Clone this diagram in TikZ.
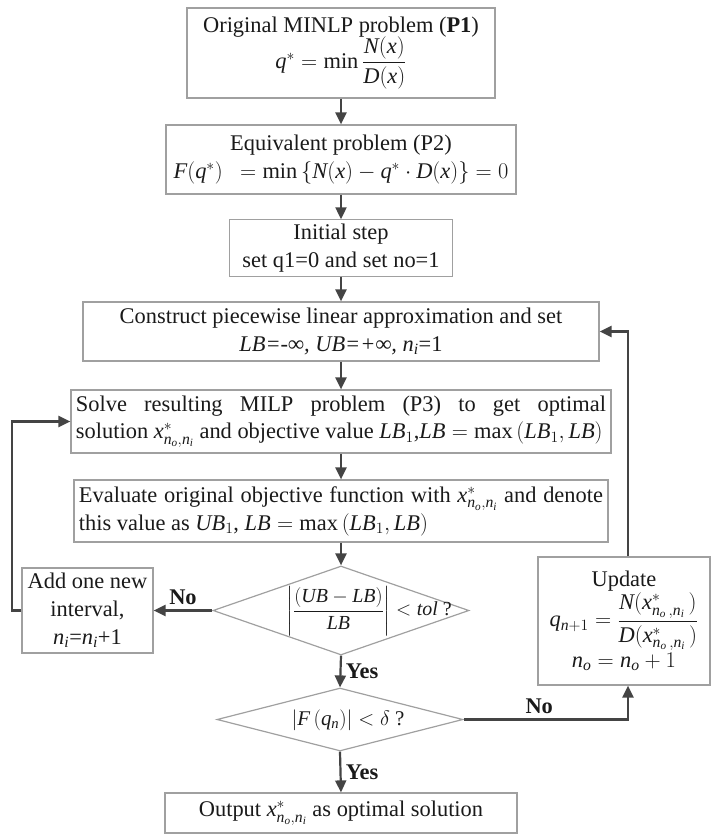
\RequirePackage{fix-cm}
\documentclass[tikz,border=0pt]{standalone}
\usepackage{amsmath}
\usepackage{fontspec}
\setmainfont{Liberation Serif}
\usetikzlibrary{arrows.meta,shapes.geometric}
\definecolor{boxgray}{HTML}{A0A0A0}
\definecolor{arrgray}{HTML}{444444}
\definecolor{txt}{HTML}{1A1A1A}
\newcommand\mi[1]{\mathit{#1}}
\newcommand\xopt{\mathit{x}^{*}_{\mathit{n}_{\mathit{o}},\mathit{n}_{\mathit{i}}}}
\newcommand\xoptw{\mathit{x}^{*}_{\mathit{n}_{\mathit{o}}\,,\mathit{n}_{\mathit{i}}}\,}
\begin{document}
\begin{tikzpicture}[x=1bp,y=1bp,
  box/.style={draw=boxgray, line width=1.2bp, fill=white, align=center, inner sep=4bp,
    font=\fontsize{22.5}{28}\selectfont, text=txt},
  jbox/.style={box, align=justify, inner xsep=5bp},
  dia/.style={diamond, draw=boxgray, line width=1.2bp, inner sep=0pt},
  dtext/.style={font=\fontsize{20}{24}\selectfont, text=txt, inner sep=0pt},
  arr/.style={draw=arrgray, line width=2.2bp, -{Triangle[length=12bp,width=11bp]}},
  lbl/.style={font=\fontsize{22.5}{28}\selectfont\bfseries, text=txt}
]
\useasboundingbox (0,0) rectangle (711,-834);

\node[box, minimum width=308bp, minimum height=90bp] (p1) at (341,-53)
  {Original MINLP problem (\textbf{P1})\\[-2bp] $\mi{q}^{*} = \min\dfrac{\mi{N}(\mi{x})}{\mi{D}(\mi{x})}$};
\node[box, minimum width=350bp, minimum height=69bp] (p2) at (341,-159.5)
  {Equivalent problem (P2)\\ $\mi{F}(\mi{q}^{*})\ \ = \min\left\{\mi{N}(\mi{x})-\mi{q}^{*}\cdot \mi{D}(\mi{x})\right\}=0$};
\node[box, minimum width=223bp, minimum height=54bp] (ini) at (341,-248)
  {Initial step\\ set q1=0 and set no=1};
\node[box, minimum width=516bp, minimum height=59bp] (con) at (341,-331.5)
  {Construct piecewise linear approximation and set\\ \textit{LB=-∞, UB=+∞, }$\mi{n}_{\mi{i}}$=1};
\node[jbox, text width=530bp, minimum height=63bp] (sol) at (341,-421.5)
  {Solve resulting MILP problem (P3) to get optimal\linebreak solution $\xopt$ and objective value $\mi{LB}_1$,$\mi{LB}=\max\left(\mi{LB}_1,\mi{LB}\right)$};
\node[jbox, text width=524bp, minimum height=62bp] (ev) at (341,-511)
  {Evaluate original objective function with $\xopt$ and denote\linebreak this value as $\mi{UB}_1$, $\mi{LB}=\max\left(\mi{LB}_1,\mi{LB}\right)$};

\node[dia, minimum width=256bp, minimum height=89bp] (d1) at (341,-610.5) {};
\node[dtext] (d1t) at (369,-611) {$\left|\dfrac{(\mi{UB}-\mi{LB})}{\mi{LB}}\right| < \mi{tol}$ ?};

\node[box, minimum width=131bp, minimum height=85bp] (add) at (87.5,-610.5)
  {Add one new\\ interval,\\ $\mi{n}_{\mi{i}}$=$\mi{n}_{\mi{i}}$+1};

\node[dia, minimum width=246bp, minimum height=63bp] (d2) at (340,-719.5) {};
\node[dtext, font=\fontsize{21}{25}\selectfont] (d2t) at (348,-720) {$\left|\mi{F}\left(\mi{q}_{\mi{n}}\right)\right| < \delta$ ?};

\node[box, minimum width=172bp, minimum height=128bp, inner ysep=2bp] (upd) at (624,-621)
  {Update\\[0bp] $\mi{q}_{\mi{n}+1}=\dfrac{\mi{N}(\xoptw)}{\mi{D}(\xoptw)}$\\[1bp] $\mi{n}_{\mi{o}}=\mi{n}_{\mi{o}}+1$};

\node[box, minimum width=352bp, minimum height=40bp] (out) at (341,-813)
  {Output $\xopt$ as optimal solution};

\draw[arr] (p1.south) -- (p2.north);
\draw[arr] (p2.south) -- (ini.north);
\draw[arr] (ini.south) -- (con.north);
\draw[arr] (con.south) -- (sol.north);
\draw[arr] (sol.south) -- (ev.north);
\draw[arr] (ev.south) -- (d1.north);
\draw[arr] (d1.west) -- (add.east) node[lbl, midway, above=1bp] {No};
\draw[arr] (d1.south) -- (d2.north) node[lbl, midway, right=1bp] {Yes};
\draw[arr] (d2.south) -- (out.north) node[lbl, midway, right=1bp] {Yes};
\draw[arr] (d2.east) -| ([xshift=4bp]upd.south) node[lbl, pos=0.23, above=1bp] {No};
\draw[arr] ([xshift=4bp]upd.north) |- (con.east);
\draw[arr] (add.west) -- ++(-9,0) |- (sol.west);
\end{tikzpicture}
\end{document}
